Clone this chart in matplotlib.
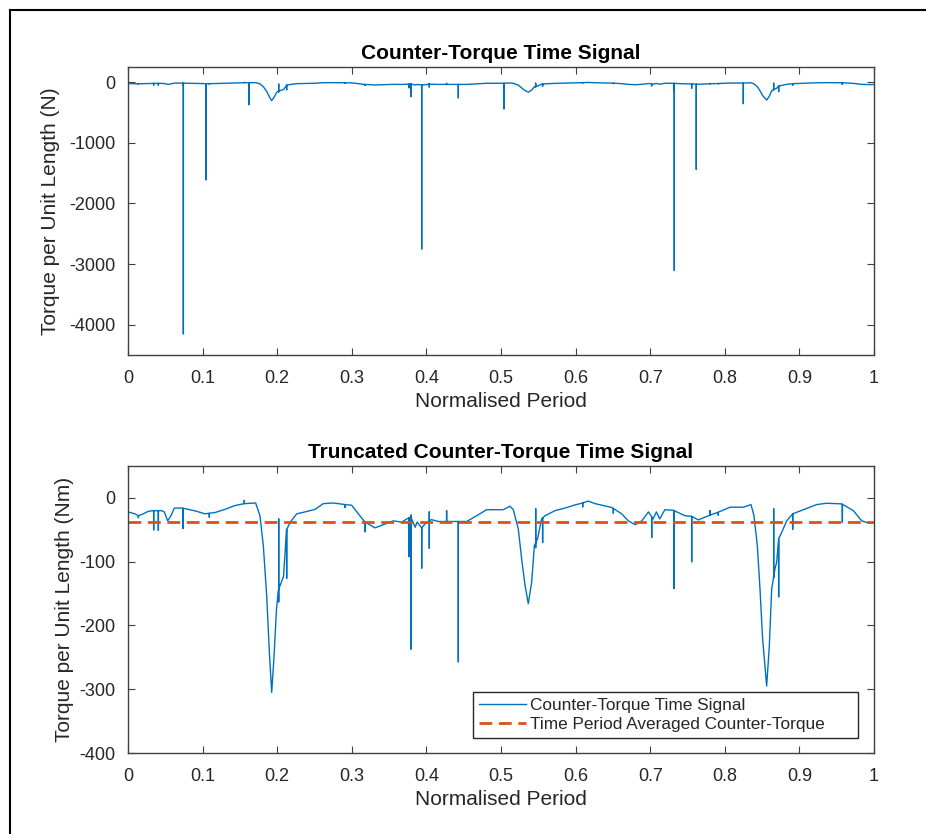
import numpy as np
import matplotlib
matplotlib.use("Agg")
import matplotlib.pyplot as plt
from matplotlib.lines import Line2D

plt.rcParams['font.family'] = ['Liberation Sans', 'DejaVu Sans']

# Smooth part of the counter-torque signal (normalised period, Nm)
base_x = [0.000, 0.0094, 0.0139, 0.0206, 0.0272, 0.0340, 0.0451, 0.0487, 0.0532, 0.0576,
          0.0621, 0.0728, 0.0809, 0.0920, 0.1032, 0.1166, 0.1300, 0.1434, 0.1559, 0.1711,
          0.1769, 0.1814, 0.1859, 0.1895, 0.1926, 0.1957, 0.1990, 0.2015, 0.2040, 0.2085,
          0.2125, 0.2175, 0.2261, 0.2372, 0.2507, 0.2618, 0.2753, 0.2910, 0.2998, 0.3088,
          0.3177, 0.3311, 0.3445, 0.3557, 0.3669, 0.3736, 0.3790, 0.3850, 0.3875, 0.3937,
          0.3980, 0.4065, 0.4160, 0.4315, 0.4540, 0.4674, 0.4808, 0.4987, 0.5030, 0.5120,
          0.5165, 0.5232, 0.5277, 0.5322, 0.5366, 0.5411, 0.5447, 0.5490, 0.5545, 0.5590,
          0.5724, 0.5858, 0.5992, 0.6095, 0.6171, 0.6260, 0.6484, 0.6618, 0.6708, 0.6797,
          0.6887, 0.6976, 0.7039, 0.7083, 0.7128, 0.7197, 0.7311, 0.7466, 0.7556, 0.7645,
          0.7801, 0.7913, 0.8070, 0.8249, 0.8351, 0.8391, 0.8436, 0.8472, 0.8507, 0.8561,
          0.8597, 0.8628, 0.8673, 0.8695, 0.8722, 0.8763, 0.8830, 0.8910, 0.9053, 0.9231,
          0.9365, 0.9567, 0.9723, 0.9835, 0.9946, 1.000]
base_y = [-22, -25, -28, -25, -21, -20, -20, -22, -36, -28,
          -16, -16, -18, -21, -25, -23, -18, -12, -9, -8,
          -28, -75, -153, -242, -305, -250, -175, -145, -137, -123,
          -50, -38, -25, -22, -18, -9, -8, -10.5, -11.5, -25,
          -38, -47, -41, -36, -38, -33, -30, -46, -38, -47,
          -41, -34, -37, -37, -37, -28, -18.5, -18.5, -18.5, -13,
          -18.5, -49, -96, -137, -166, -132, -75, -64, -33, -28,
          -20, -16, -11, -8, -5, -9, -15, -25, -36, -42,
          -36, -22, -33, -22, -33, -18.5, -19.5, -28, -29, -34.5,
          -27, -22.5, -14.6, -14.6, -10.5, -28, -75, -143, -221, -295,
          -232, -143, -111, -101, -64, -54, -36, -25, -18.5, -10.5,
          -8.4, -9.4, -20, -36, -40, -39]

# Short spikes kept in the truncated signal
spike_x = [0.0139, 0.0344, 0.0407, 0.0737, 0.1090, 0.1559, 0.2020, 0.2020, 0.2127,
           0.2910, 0.3177, 0.3767, 0.3794, 0.3794, 0.3937, 0.4039, 0.4039, 0.4271,
           0.4428, 0.5465, 0.5465, 0.5558, 0.6095, 0.6506, 0.7020, 0.7319, 0.7556,
           0.7801, 0.7913, 0.8655, 0.8655, 0.8722, 0.8722, 0.8910, 0.9576]
spike_y = [-31, -50, -51, -48, -30, -4, -33, -163, -126,
           -15, -53, -92, -27, -237, -110, -22, -79, -20,
           -257, -17, -78, -70, -14, -24, -62, -142, -100,
           -20, -27, -17, -125, -64, -155, -49, -38]

# Large spikes present only in the full signal
big_spike_x = [0.0742, 0.1046, 0.1622, 0.3937, 0.5040, 0.7323, 0.7618, 0.8248]
big_spike_y = [-4150, -1610, -370, -2750, -440, -3105, -1440, -357]

mean_torque = -37.5

x_ticks = [0, 0.1, 0.2, 0.3, 0.4, 0.5, 0.6, 0.7, 0.8, 0.9, 1]
x_tick_labels = ['0', '0.1', '0.2', '0.3', '0.4', '0.5', '0.6', '0.7', '0.8', '0.9', '1']
top_y_ticks = [-4000, -3000, -2000, -1000, 0]
bottom_y_ticks = [-400, -300, -200, -100, 0]

BLUE = '#0072BD'
ORANGE = '#D95319'
AX_COL = '#404040'
TXT_COL = '#262626'


def build_signal(sx_list, sy_list):
    """Merge the smooth curve with one-sample spikes."""
    xs = list(base_x)
    ys = list(base_y)
    for sx, sy in zip(sx_list, sy_list):
        b = float(np.interp(sx, base_x, base_y))
        xs += [sx, sx, sx]
        ys += [b, sy, b]
    xs = np.array(xs)
    ys = np.array(ys)
    order = np.argsort(xs, kind='stable')
    return xs[order], ys[order]


full_x, full_y = build_signal(spike_x + big_spike_x, spike_y + big_spike_y)
trunc_x, trunc_y = build_signal(spike_x, spike_y)

fig = plt.figure(figsize=(9.26, 8.34), dpi=100)
ax1 = fig.add_axes([128 / 926, (834 - 355) / 834, 746 / 926, 288 / 834])
ax2 = fig.add_axes([128 / 926, (834 - 753) / 834, 746 / 926, 287 / 834])


def style(ax):
    for s in ax.spines.values():
        s.set_color(AX_COL)
        s.set_linewidth(1.0)
    ax.tick_params(direction='in', length=5, width=0.8, color=AX_COL,
                   labelcolor=TXT_COL, labelsize=13, top=True, right=True)
    ax.tick_params(axis='x', pad=10.5)
    ax.tick_params(axis='y', pad=9)
    ax.set_xlim(0, 1)
    ax.set_xticks(x_ticks)
    ax.set_xticklabels(x_tick_labels)
    ax.set_xlabel('Normalised Period', fontsize=15, color=TXT_COL, labelpad=4)


ax1.plot(full_x, full_y, color=BLUE, lw=1.0)
ax1.set_ylim(-4500, 250)
ax1.set_yticks(top_y_ticks)
ax1.set_yticklabels([str(v) for v in top_y_ticks])
style(ax1)
ax1.set_ylabel('Torque per Unit Length (N)', fontsize=15, color=TXT_COL, labelpad=7)
ax1.set_title('Counter-Torque Time Signal', fontsize=15, fontweight='bold',
              color='black', pad=6)

ax2.plot(trunc_x, trunc_y, color=BLUE, lw=1.0, label='Counter-Torque Time Signal')
ax2.plot([0, 1], [mean_torque, mean_torque], color=ORANGE, lw=2.0,
         dashes=(4.6, 2.4), label='Time Period Averaged Counter-Torque')
ax2.set_ylim(-400, 50)
ax2.set_yticks(bottom_y_ticks)
ax2.set_yticklabels([str(v) for v in bottom_y_ticks])
style(ax2)
ax2.set_ylabel('Torque per Unit Length (Nm)', fontsize=15, color=TXT_COL, labelpad=4)
ax2.set_title('Truncated Counter-Torque Time Signal', fontsize=15, fontweight='bold',
              color='black', pad=6)

# legend box spanning a fixed width inside the lower-right corner
leg_x0 = (473 - 128) / 746
leg_w = (858 - 473) / 746
leg_y0 = (753 - 738) / 287
leg = ax2.legend(loc='lower left', bbox_to_anchor=(leg_x0, leg_y0, leg_w, 0.1),
                 mode='expand', borderaxespad=0, fontsize=12.4, frameon=True,
                 fancybox=False, edgecolor='#262626', framealpha=1,
                 handlelength=2.7, handletextpad=0.25, labelspacing=0.22,
                 borderpad=0.35)
leg.get_frame().set_linewidth(1.0)
for t in leg.get_texts():
    t.set_color(TXT_COL)

# outer frame on left and top edges
fig.add_artist(Line2D([9.5 / 926, 9.5 / 926], [0, 1 - 10 / 834], color='black',
                      lw=1.5, transform=fig.transFigure))
fig.add_artist(Line2D([9.5 / 926, 1], [1 - 10 / 834, 1 - 10 / 834], color='black',
                      lw=1.5, transform=fig.transFigure))

fig.savefig('out.png', dpi=100, facecolor='white')
